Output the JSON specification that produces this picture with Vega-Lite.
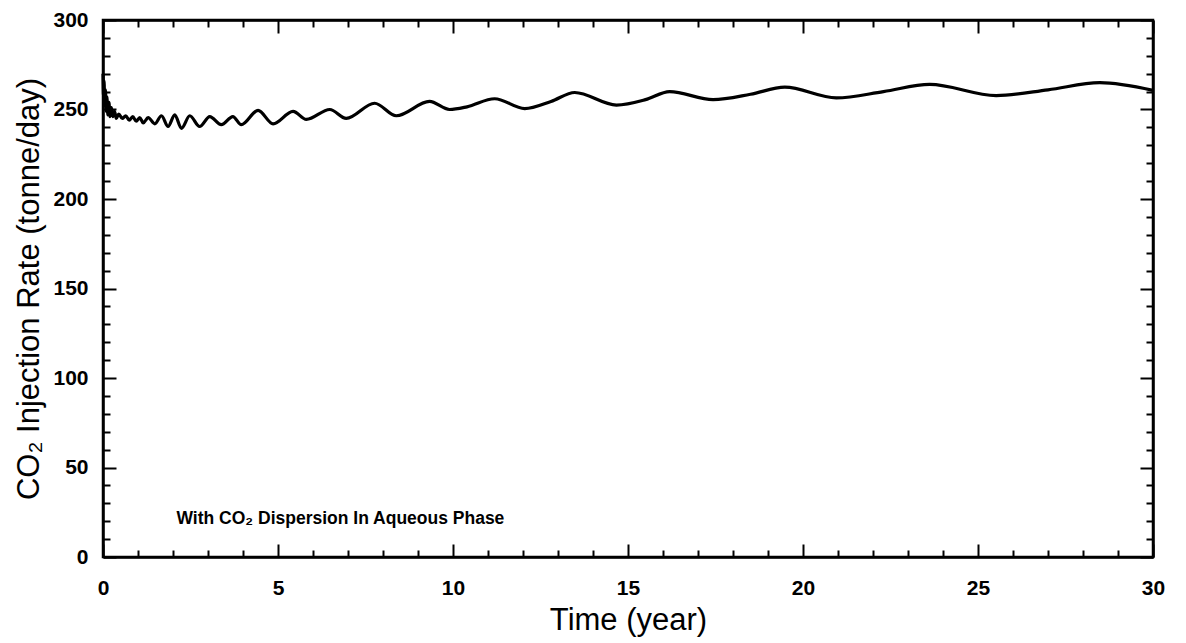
{
  "$schema": "https://vega.github.io/schema/vega-lite/v6.json",
  "width": 1050,
  "height": 537,
  "autosize": "none",
  "padding": {"left": 103, "top": 20, "right": 33, "bottom": 86},
  "background": "white",
  "config": {
    "view": {"stroke": "black", "strokeWidth": 2.5},
    "axis": {
      "domainColor": "black",
      "domainWidth": 2.5,
      "tickColor": "black",
      "tickWidth": 2,
      "grid": false,
      "labelFont": "Liberation Sans",
      "labelFontWeight": "bold",
      "labelFontSize": 21,
      "labelColor": "black",
      "titleFont": "Liberation Sans",
      "titleFontWeight": "normal",
      "titleFontSize": 31,
      "titleColor": "black"
    }
  },
  "datasets": {
    "series": [
      {"t": 0, "v": 270},
      {"t": 0.015, "v": 258},
      {"t": 0.03, "v": 266},
      {"t": 0.05, "v": 252},
      {"t": 0.07, "v": 261},
      {"t": 0.09, "v": 249},
      {"t": 0.11, "v": 257},
      {"t": 0.14, "v": 247},
      {"t": 0.17, "v": 254},
      {"t": 0.2, "v": 246},
      {"t": 0.24, "v": 251},
      {"t": 0.28, "v": 246},
      {"t": 0.33, "v": 249},
      {"t": 0.38, "v": 245},
      {"t": 0.45, "v": 247.5},
      {"t": 0.55, "v": 245},
      {"t": 0.65, "v": 246.5},
      {"t": 0.75, "v": 244},
      {"t": 0.85, "v": 246},
      {"t": 0.95, "v": 243.5},
      {"t": 1.05, "v": 245.5},
      {"t": 1.15, "v": 242.5},
      {"t": 1.29, "v": 245.5},
      {"t": 1.48, "v": 242},
      {"t": 1.67, "v": 246.5},
      {"t": 1.86, "v": 240.5},
      {"t": 2.05, "v": 247},
      {"t": 2.24, "v": 239.5},
      {"t": 2.48, "v": 246.5},
      {"t": 2.76, "v": 240.5},
      {"t": 3.05, "v": 246},
      {"t": 3.38, "v": 241.5},
      {"t": 3.71, "v": 246},
      {"t": 3.95, "v": 241.5},
      {"t": 4.43, "v": 249.5},
      {"t": 4.86, "v": 242},
      {"t": 5.43, "v": 249},
      {"t": 5.81, "v": 244.5},
      {"t": 6.48, "v": 250},
      {"t": 6.95, "v": 245},
      {"t": 7.76, "v": 253.5},
      {"t": 8.38, "v": 246.5},
      {"t": 9.33, "v": 254.5},
      {"t": 9.9, "v": 250},
      {"t": 10.4, "v": 251.5},
      {"t": 11.19, "v": 256},
      {"t": 12.05, "v": 250.5},
      {"t": 12.8, "v": 254.5},
      {"t": 13.48, "v": 259.5},
      {"t": 14.67, "v": 252.5},
      {"t": 15.5, "v": 255.5},
      {"t": 16.19, "v": 260},
      {"t": 17.43, "v": 255.5},
      {"t": 18.5, "v": 258.5},
      {"t": 19.48, "v": 262.5},
      {"t": 20.95, "v": 256.5},
      {"t": 22.3, "v": 260},
      {"t": 23.62, "v": 264},
      {"t": 25.52, "v": 257.8},
      {"t": 27.0, "v": 261},
      {"t": 28.48, "v": 265},
      {"t": 30, "v": 260.7}
    ],
    "note": [
      {"t": 2.1, "v": 21, "label": "With CO₂ Dispersion In Aqueous Phase"}
    ]
  },
  "layer": [
    {
      "data": {"name": "series"},
      "mark": {"type": "line", "color": "black", "strokeWidth": 3.2, "interpolate": "monotone"},
      "encoding": {
        "x": {
          "field": "t",
          "type": "quantitative",
          "scale": {"domain": [0, 30], "nice": false, "zero": false},
          "axis": {
            "orient": "bottom",
            "title": "Time (year)",
            "values": [0,1,2,3,4,5,6,7,8,9,10,11,12,13,14,15,16,17,18,19,20,21,22,23,24,25,26,27,28,29,30],
            "labelExpr": "datum.value % 5 === 0 ? datum.label : ''",
            "tickSize": {"condition": {"test": "datum.value % 5 === 0", "value": -13}, "value": -7},
            "labelPadding": 33,
            "labelFlush": false,
            "titlePadding": 7
          }
        },
        "y": {
          "field": "v",
          "type": "quantitative",
          "scale": {"domain": [0, 300], "nice": false},
          "axis": {
            "orient": "left",
            "title": "CO₂ Injection Rate (tonne/day)",
            "values": [0,10,20,30,40,50,60,70,80,90,100,110,120,130,140,150,160,170,180,190,200,210,220,230,240,250,260,270,280,290,300],
            "labelExpr": "datum.value % 50 === 0 ? datum.label : ''",
            "tickSize": {"condition": {"test": "datum.value % 50 === 0", "value": -13}, "value": -7},
            "labelPadding": 28,
            "labelFlush": false,
            "titlePadding": 7
          }
        }
      }
    },
    {
      "data": {"name": "note"},
      "mark": {"type": "text", "align": "left", "baseline": "middle", "font": "Liberation Sans", "fontWeight": "bold", "fontSize": 17.5, "color": "black"},
      "encoding": {
        "x": {
          "field": "t",
          "type": "quantitative",
          "axis": {
            "orient": "top",
            "title": null,
            "labels": false,
            "values": [0,1,2,3,4,5,6,7,8,9,10,11,12,13,14,15,16,17,18,19,20,21,22,23,24,25,26,27,28,29,30],
            "tickSize": {"condition": {"test": "datum.value % 5 === 0", "value": -13}, "value": -7}
          }
        },
        "y": {
          "field": "v",
          "type": "quantitative",
          "axis": {
            "orient": "right",
            "title": null,
            "labels": false,
            "values": [0,10,20,30,40,50,60,70,80,90,100,110,120,130,140,150,160,170,180,190,200,210,220,230,240,250,260,270,280,290,300],
            "tickSize": {"condition": {"test": "datum.value % 50 === 0", "value": -13}, "value": -7}
          }
        },
        "text": {"field": "label"}
      }
    }
  ],
  "resolve": {"axis": {"x": "independent", "y": "independent"}}
}
